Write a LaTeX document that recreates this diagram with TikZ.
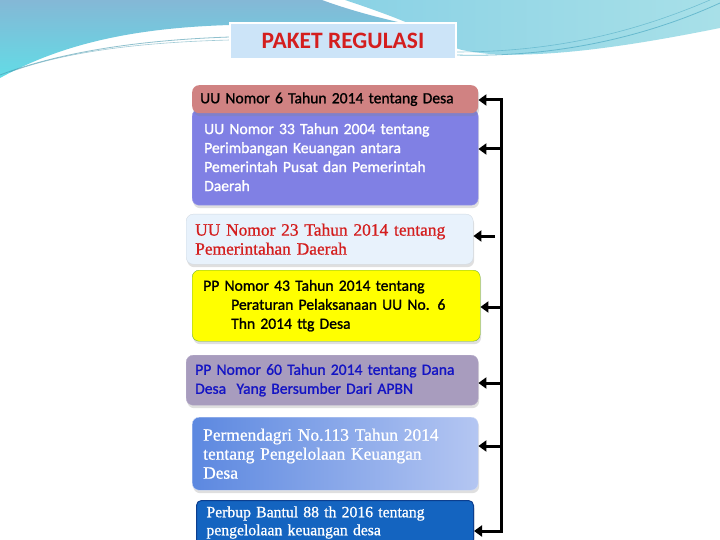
\documentclass[tikz,border=0pt]{standalone}
\usepackage{fontspec}
\setmainfont{Carlito}
\newfontfamily\sansb{Carlito}[FakeBold=1.2]
\newfontfamily\serifa{Liberation Serif}[FakeBold=0.8]
\usetikzlibrary{arrows.meta,shadows,calc}
\definecolor{tealL}{HTML}{62DCE6}
\definecolor{tealT}{HTML}{84B8D6}
\definecolor{tealR}{HTML}{A8E0E8}
\definecolor{tealM}{HTML}{58BEDA}
\definecolor{boxA}{HTML}{D08282}
\definecolor{boxB}{HTML}{8080E4}
\definecolor{boxC}{HTML}{E8F2FC}
\definecolor{boxD}{HTML}{FFFF00}
\definecolor{boxDb}{HTML}{6CB030}
\definecolor{boxE}{HTML}{A89CBE}
\definecolor{boxF}{HTML}{1464C0}
\definecolor{boxFb}{HTML}{0C3E8E}
\definecolor{gradL}{HTML}{5C88E0}
\definecolor{gradM}{HTML}{1E40BC}
\definecolor{gradR}{HTML}{B4C6F2}
\definecolor{txtR}{HTML}{D41E1E}
\definecolor{txtB}{HTML}{1414C4}
\definecolor{titleF}{HTML}{CCE4F8}
\begin{document}
\begin{tikzpicture}[x=1pt,y=-1pt,
  regbox/.style={rounded corners=7pt, anchor=north west, align=left, inner sep=0pt,
     font=\sansb\fontsize{15.6}{19}\selectfont,
     drop shadow={opacity=0.25, shadow xshift=1pt, shadow yshift=-3pt}},
  serifbox/.style={font=\serifa\fontsize{17.4}{19}\selectfont},
  spine/.style={line width=3pt, line cap=rect},
  arr/.style={line width=3pt, -{Triangle[length=8pt,width=11pt]}}
]
\useasboundingbox (0,0) rectangle (720,540);
\fill[white] (0,0) rectangle (720,540);
% background swooshes
\shade[top color=tealT, bottom color=tealL]
  (0,0) -- (322,0) .. controls (360,14) and (410,26) .. (450,32)
  -- (230,25) .. controls (130,28) and (60,45) .. (0,78) -- cycle;
\shade[left color=tealM!70, right color=tealR]
  (345,0) -- (720,0) -- (720,28) .. controls (650,42) and (560,58) .. (490,54)
  .. controls (470,52) and (460,50) .. (456,48)
  .. controls (430,30) and (390,15) .. (345,0) -- cycle;
\draw[tealM!80!black, line width=0.8pt, opacity=0.6]
  (0,75) .. controls (60,52) and (140,40) .. (230,37);
\draw[tealM!80!black, line width=0.6pt, opacity=0.5]
  (10,72) .. controls (70,50) and (150,42) .. (230,40);
\draw[tealM!90!black, line width=0.8pt, opacity=0.7]
  (456,55) .. controls (560,58) and (650,35) .. (720,3);
\draw[tealM!90!black, line width=0.6pt, opacity=0.6]
  (456,52) .. controls (560,52) and (640,30) .. (710,0);

% title
\node[fill=titleF, draw=white, line width=1.5pt, minimum width=226pt, minimum height=36pt,
      text=txtR, font=\bfseries\fontsize{23.5}{25}\selectfont, inner sep=0pt] (title) at (343,41) {PAKET REGULASI};

% boxes
\node[regbox, fill=boxB, draw=boxB!80!white, minimum width=286pt, minimum height=96pt,
      text width=286pt, text=white] (b2) at (192,109)
  {\hspace*{12pt}UU Nomor 33 Tahun 2004 tentang\\\hspace*{12pt}Perimbangan Keuangan antara\\\hspace*{12pt}Pemerintah Pusat dan Pemerintah\\\hspace*{12pt}Daerah};
\node[regbox, fill=boxA, minimum width=286pt, minimum height=28pt, text width=286pt,
      text=black] (b1) at (192,85) {\hspace*{8pt}UU Nomor 6 Tahun 2014 tentang Desa};
\node[regbox, serifbox, fill=boxC, draw=boxC!90!black, minimum width=287pt, minimum height=50pt,
      text width=287pt, text=txtR] (b3) at (186,214)
  {\hspace*{9pt}UU Nomor 23 Tahun 2014 tentang\\\hspace*{9pt}Pemerintahan Daerah};
\node[regbox, fill=boxD, draw=boxDb, minimum width=288pt, minimum height=71pt,
      text width=288pt, text=black] (b4) at (192,270)
  {\hspace*{11pt}PP Nomor 43 Tahun 2014 tentang\\\hspace*{39pt}Peraturan Pelaksanaan UU No. 6\\\hspace*{39pt}Thn 2014 ttg Desa};
\node[regbox, fill=boxE, draw=boxE!85!white, minimum width=292pt, minimum height=50pt,
      text width=292pt, text=txtB] (b5) at (186,355)
  {\hspace*{9pt}PP Nomor 60 Tahun 2014 tentang Dana\\\hspace*{9pt}Desa\ \ Yang Bersumber Dari APBN};
\node[regbox, serifbox, left color=gradL, middle color=gradM, right color=gradR,
      draw=gradR!60!white, minimum width=286pt, minimum height=73pt,
      text width=286pt, text=white] (b6) at (192,417)
  {\hspace*{11pt}Permendagri No.113 Tahun 2014\\\hspace*{11pt}tentang Pengelolaan Keuangan\\\hspace*{11pt}Desa};
\node[regbox, rounded corners=5pt, fill=boxF, draw=boxFb, line width=1pt, minimum width=277pt, minimum height=44pt,
      text width=277pt, text=white, font=\serifa\fontsize{15.7}{18}\selectfont] (b7) at (196,500)
  {\hspace*{10pt}Perbup Bantul 88 th 2016 tentang\\\hspace*{10pt}pengelolaan keuangan desa};

% connectors
\coordinate (top) at (501,100);
\coordinate (bot) at (501,531);
\coordinate (a2) at (501,149);
\coordinate (a3) at (495,236);
\coordinate (a4) at (501,307);
\coordinate (a5) at (501,383);
\coordinate (a6) at (501,446);
\draw[spine] (top) -- (bot);
\draw[arr] (top) -- (top -| b1.east);
\draw[arr] (a2) -- (a2 -| b2.east);
\draw[arr] (a3) -- (a3 -| b3.east);
\draw[arr] (a4) -- (a4 -| b4.east);
\draw[arr] (a5) -- (a5 -| b5.east);
\draw[arr] (a6) -- (a6 -| b6.east);
\draw[arr] (bot) -- (bot -| b7.east);
\end{tikzpicture}
\end{document}
